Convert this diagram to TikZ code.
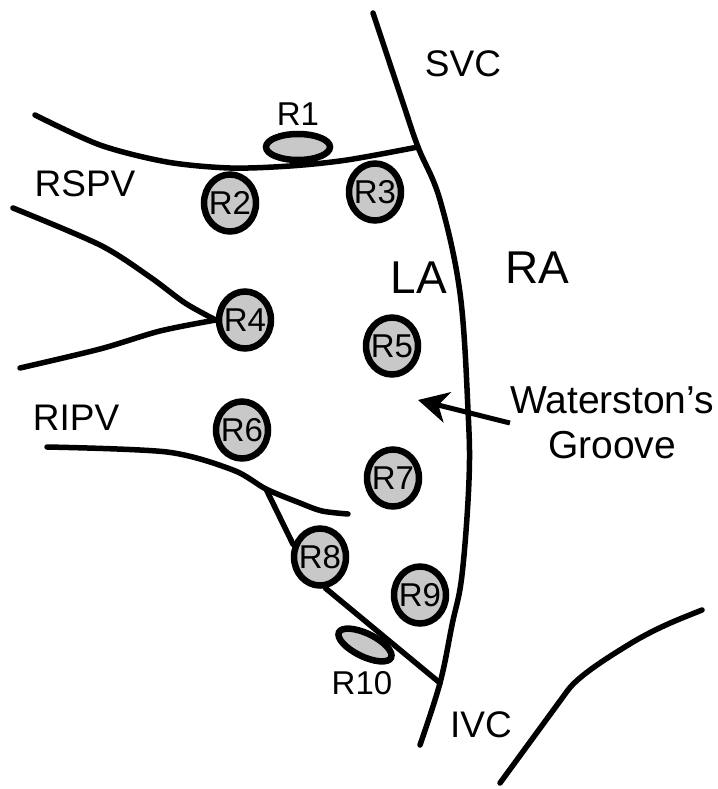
\documentclass[tikz,border=0pt]{standalone}
\usepackage{fontspec}
\setmainfont{Liberation Sans}
\usetikzlibrary{shapes.geometric,arrows.meta,backgrounds}
\definecolor{spotfill}{RGB}{200,200,200}
\begin{document}
\begin{tikzpicture}[x=1pt,y=-1pt,
  vessel/.style={line width=5.5pt, line cap=round, line join=round},
  spot/.style={ellipse, draw, fill=spotfill, line width=6.5pt, inner sep=0pt,
               minimum width=52pt, minimum height=57pt},
  spotlbl/.style={font=\fontsize{33}{33}\selectfont, inner sep=0pt},
  site/.style={font=\fontsize{37}{37}\selectfont, inner sep=0pt, anchor=base},
  chamber/.style={font=\fontsize{46}{46}\selectfont, inner sep=0pt, anchor=base},
  pointer/.style={line width=5pt, -{Stealth[length=30pt,width=31pt,inset=9pt]}},
]
\useasboundingbox (0,0) rectangle (717,789);

% ablation sites
\node[spot, minimum width=64pt, minimum height=26pt,
      label={[spotlbl,label distance=5pt]north:R1}] (R1) at (298,147) {};
\node[spot, label={[spotlbl]center:R2}] (R2) at (230,203) {};
\node[spot, label={[spotlbl]center:R3}] (R3) at (375,192) {};
\node[spot, label={[spotlbl]center:R4}] (R4) at (245,320) {};
\node[spot, label={[spotlbl]center:R5}] (R5) at (392,346) {};
\node[spot, label={[spotlbl]center:R6}] (R6) at (242,430) {};
\node[spot, label={[spotlbl]center:R7}] (R7) at (393,478) {};
\node[spot, label={[spotlbl]center:R8}] (R8) at (320,557) {};
\node[spot, label={[spotlbl]center:R9}] (R9) at (420,595) {};
\node[spot, minimum width=58pt, minimum height=23pt, rotate=-26] (R10) at (365,645) {};
\node[spotlbl] (R10txt) at (362,683) {R10};

% junctions and free ends of the vessel outlines
\coordinate (svcEnd) at (373,13);
\coordinate (jTop)   at (418,147);
\coordinate (jIvc)   at (440,683);
\coordinate (ivcEnd) at (420,745);
\coordinate (jRipv)  at (266,489);
\coordinate (grooveTip) at (418,400);

\begin{scope}[on background layer]
  \fill[white] (0,0) rectangle (717,789);
  % septal border between LA and RA
  \draw[vessel] plot[smooth, tension=0.6] coordinates
    {(svcEnd) (402,100) (jTop) (440,200) (460,293) (468,410) (469,480)
     (462,575) (452,625) (jIvc) (ivcEnd)};
  % right superior pulmonary vein
  \draw[vessel] plot[smooth] coordinates
    {(35,115) (100,145) (167,162) (230,168) (290,166) (347,160) (jTop)};
  \draw[vessel] plot[smooth] coordinates
    {(13,208) (100,245) (150,277) (185,303) (R4.west)};
  \draw[vessel] plot[smooth] coordinates
    {(20,368) (100,349) (160,331) (R4.west)};
  % right inferior pulmonary vein
  \draw[vessel] plot[smooth] coordinates
    {(47,447) (167,452) (233,470) (jRipv) (300,503) (322,511) (348,514)};
  \draw[vessel] (jRipv) -- (R8.155);
  \draw[vessel] (R8.-80) -- (jIvc);
  % IVC outline
  \draw[vessel] (500,783) -- (568,690) .. controls (578,677) and (600,662) .. (633,642)
    .. controls (662,625) and (685,617) .. (702,610);
\end{scope}

% labels
\node[site] (svc)  at (463,77)  {SVC};
\node[site] (rspv) at (85,196)  {RSPV};
\node[site] (ripv) at (76,430)  {RIPV};
\node[site] (ivc)  at (481,737) {IVC};
\node[chamber] (la) at (419,293) {LA};
\node[chamber] (ra) at (537,283) {RA};
\node[font=\fontsize{39}{45}\selectfont, align=center, inner sep=0pt]
  (wg) at (612,423) {Waterston’s\\Groove};
\draw[pointer] (wg.west) -- (grooveTip);
\end{tikzpicture}
\end{document}
